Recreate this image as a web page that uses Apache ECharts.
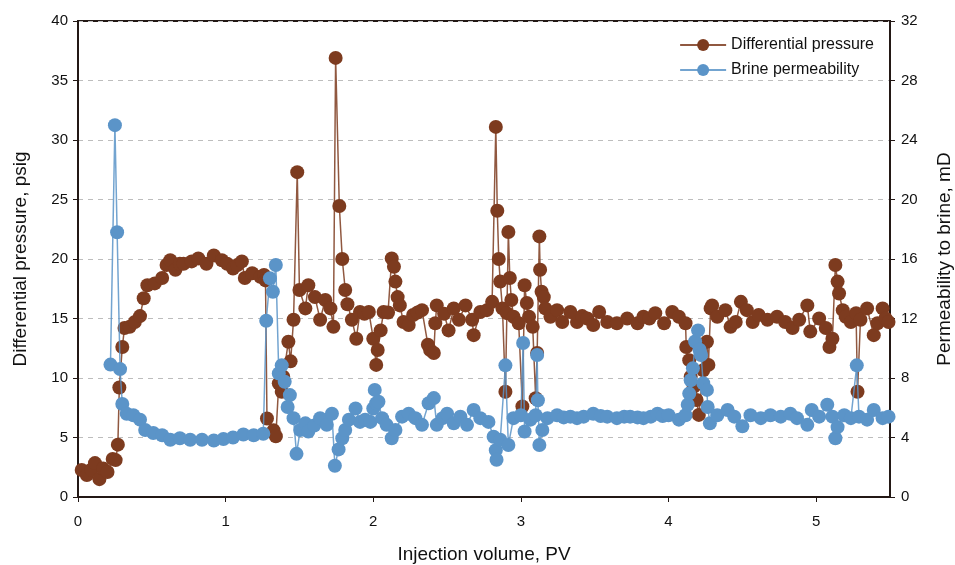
<!DOCTYPE html>
<html>
<head>
<meta charset="utf-8">
<script src="https://cdn.jsdelivr.net/npm/echarts@6/dist/echarts.min.js"></script>
<style>
  html, body { margin: 0; padding: 0; background: #fff; overflow: hidden; }
  #chart { width: 955px; height: 565px; }
</style>
</head>
<body>
<div id="chart"></div>
<script>
// injection volume (PV) / differential pressure (psig)
var pressurePoints = [
  [0.025, 2.27], [0.06, 1.85], [0.09, 2.3], [0.115, 2.85], [0.145, 1.5], [0.17, 2.4], [0.20, 2.1],
  [0.235, 3.2], [0.255, 3.1], [0.27, 4.4], [0.28, 9.2], [0.30, 12.6], [0.315, 14.2], [0.35, 14.3],
  [0.385, 14.7], [0.42, 15.2], [0.445, 16.7], [0.47, 17.8], [0.52, 17.95], [0.57, 18.4], [0.60, 19.5],
  [0.625, 19.9], [0.66, 19.1], [0.69, 19.6], [0.715, 19.6], [0.77, 19.8], [0.815, 20.05], [0.87, 19.6],
  [0.92, 20.3], [0.975, 19.9], [1.01, 19.6], [1.05, 19.2], [1.08, 19.5], [1.11, 19.8], [1.13, 18.4],
  [1.18, 18.8], [1.235, 18.5], [1.26, 18.65], [1.27, 18.2], [1.28, 6.6], [1.325, 5.6], [1.34, 5.1],
  [1.36, 9.55], [1.38, 8.85], [1.39, 10.1], [1.425, 13.05], [1.44, 11.4], [1.46, 14.9], [1.485, 27.3],
  [1.50, 17.4], [1.54, 15.85], [1.56, 17.8], [1.605, 16.8], [1.64, 14.9], [1.675, 16.55], [1.71, 15.85],
  [1.73, 14.3], [1.745, 36.9], [1.77, 24.45], [1.79, 20.0], [1.81, 17.4], [1.825, 16.2], [1.855, 14.9],
  [1.885, 13.3], [1.91, 15.55], [1.94, 15.4], [1.97, 15.55], [2.0, 13.3], [2.02, 11.1], [2.03, 12.35],
  [2.05, 14.0], [2.07, 15.55], [2.10, 15.5], [2.125, 20.05], [2.14, 19.35], [2.15, 18.1], [2.165, 16.8],
  [2.18, 16.1], [2.205, 14.7], [2.24, 14.45], [2.27, 15.3], [2.30, 15.5], [2.33, 15.7], [2.37, 12.8],
  [2.385, 12.35], [2.41, 12.1], [2.42, 14.6], [2.43, 16.1], [2.48, 15.4], [2.51, 14.0], [2.545, 15.85],
  [2.58, 14.9], [2.625, 16.1], [2.67, 14.9], [2.68, 13.6], [2.725, 15.55], [2.77, 15.7], [2.805, 16.4],
  [2.83, 31.1], [2.84, 24.05], [2.85, 20.0], [2.86, 18.1], [2.875, 15.85], [2.895, 8.85], [2.905, 15.45],
  [2.915, 22.27], [2.925, 18.4], [2.935, 16.55], [2.95, 15.15], [2.985, 14.6], [3.01, 7.6], [3.025, 17.8],
  [3.04, 16.3], [3.055, 15.15], [3.08, 14.3], [3.10, 8.3], [3.11, 12.1], [3.125, 21.9], [3.13, 19.1],
  [3.14, 17.25], [3.155, 16.8], [3.165, 15.85], [3.20, 15.15], [3.245, 15.7], [3.28, 14.7], [3.335, 15.55],
  [3.38, 14.7], [3.415, 15.2], [3.45, 15.0], [3.49, 14.45], [3.53, 15.55], [3.585, 14.7], [3.65, 14.6],
  [3.72, 15.0], [3.79, 14.6], [3.83, 15.15], [3.87, 15.0], [3.91, 15.45], [3.97, 14.6], [4.025, 15.55],
  [4.07, 15.15], [4.115, 14.6], [4.12, 12.6], [4.14, 11.5], [4.15, 10.1], [4.17, 9.25], [4.19, 8.15],
  [4.205, 6.9], [4.235, 10.65], [4.26, 13.05], [4.27, 11.1], [4.285, 15.85], [4.295, 16.1], [4.33, 15.15],
  [4.385, 15.7], [4.42, 14.3], [4.455, 14.7], [4.49, 16.4], [4.53, 15.7], [4.57, 14.7], [4.61, 15.3],
  [4.67, 14.9], [4.735, 15.15], [4.79, 14.7], [4.84, 14.2], [4.885, 14.9], [4.94, 16.1], [4.96, 13.9],
  [5.02, 15.0], [5.065, 14.2], [5.09, 12.6], [5.11, 13.3], [5.13, 19.5], [5.145, 18.1], [5.155, 17.1],
  [5.18, 15.7], [5.20, 15.15], [5.235, 14.7], [5.27, 15.45], [5.28, 8.85], [5.30, 14.9], [5.345, 15.85],
  [5.39, 13.6], [5.415, 14.6], [5.45, 15.85], [5.47, 15.0], [5.49, 14.7]
];

// injection volume (PV) / brine permeability (mD)
var permPoints = [
  [0.22, 8.9], [0.25, 25.0], [0.265, 17.8], [0.285, 8.6], [0.30, 6.25], [0.33, 5.6], [0.375, 5.5],
  [0.42, 5.2], [0.455, 4.5], [0.51, 4.3], [0.57, 4.15], [0.625, 3.85], [0.69, 3.95], [0.76, 3.85],
  [0.84, 3.85], [0.92, 3.8], [0.985, 3.9], [1.05, 4.0], [1.12, 4.2], [1.19, 4.15], [1.255, 4.25],
  [1.275, 11.85], [1.30, 14.7], [1.32, 13.8], [1.34, 15.6], [1.36, 8.3], [1.38, 8.85], [1.40, 7.75],
  [1.42, 6.05], [1.435, 6.85], [1.46, 5.3], [1.48, 2.9], [1.505, 4.5], [1.54, 4.95], [1.56, 4.4],
  [1.60, 4.8], [1.64, 5.3], [1.685, 4.85], [1.72, 5.6], [1.74, 2.1], [1.765, 3.2], [1.79, 3.95],
  [1.81, 4.5], [1.835, 5.2], [1.88, 5.95], [1.91, 5.05], [1.945, 5.2], [1.98, 5.05], [2.0, 5.95],
  [2.01, 7.2], [2.02, 6.3], [2.035, 6.4], [2.06, 5.3], [2.09, 4.85], [2.125, 3.95], [2.15, 4.5],
  [2.195, 5.4], [2.24, 5.6], [2.285, 5.3], [2.33, 4.85], [2.375, 6.3], [2.41, 6.65], [2.43, 4.85],
  [2.47, 5.3], [2.5, 5.6], [2.545, 4.95], [2.59, 5.4], [2.635, 4.85], [2.68, 5.85], [2.725, 5.3],
  [2.78, 5.05], [2.815, 4.05], [2.83, 3.15], [2.835, 2.5], [2.86, 3.85], [2.895, 8.85], [2.915, 3.5],
  [2.95, 5.3], [3.0, 5.5], [3.015, 10.35], [3.025, 4.4], [3.065, 5.2], [3.10, 5.5], [3.11, 9.55],
  [3.115, 6.5], [3.125, 3.5], [3.145, 4.5], [3.18, 5.3], [3.245, 5.5], [3.29, 5.35], [3.335, 5.4],
  [3.38, 5.3], [3.425, 5.4], [3.49, 5.6], [3.54, 5.45], [3.585, 5.4], [3.65, 5.3], [3.70, 5.4],
  [3.74, 5.4], [3.79, 5.35], [3.83, 5.3], [3.88, 5.4], [3.925, 5.6], [3.96, 5.45], [4.0, 5.5],
  [4.07, 5.2], [4.115, 5.5], [4.13, 6.2], [4.14, 6.95], [4.15, 7.85], [4.165, 8.65], [4.18, 10.45],
  [4.20, 11.2], [4.21, 9.9], [4.22, 9.55], [4.235, 7.65], [4.26, 7.2], [4.265, 6.05], [4.28, 4.95],
  [4.33, 5.5], [4.40, 5.85], [4.445, 5.4], [4.50, 4.75], [4.555, 5.5], [4.625, 5.3], [4.69, 5.5],
  [4.76, 5.4], [4.825, 5.6], [4.87, 5.3], [4.94, 4.85], [4.97, 5.85], [5.02, 5.4], [5.075, 6.2],
  [5.11, 5.4], [5.13, 3.95], [5.145, 4.7], [5.19, 5.5], [5.235, 5.3], [5.275, 8.85], [5.29, 5.4],
  [5.345, 5.2], [5.39, 5.85], [5.45, 5.3], [5.49, 5.4]
];

var brown = '#7d3b1f'
var blue = '#5b94c8'
var axisColor = '#231815'
var fontFamily = 'Liberation Sans, Arial, sans-serif'

var myChart = echarts.init(document.getElementById('chart'))
var option = {
  animation: false,
  textStyle: { fontFamily: fontFamily },
  grid: {
    left: 78, right: 65, top: 21, bottom: 68,
    containLabel: false,
    outerBoundsMode: 'none',
    show: true, borderColor: axisColor, borderWidth: 2
  },
  legend: {
    orient: 'vertical',
    right: 76,
    top: 32,
    itemWidth: 46,
    itemHeight: 15,
    itemGap: 9,
    textStyle: { fontSize: 16, color: '#111', fontFamily: fontFamily },
    data: ['Differential pressure', 'Brine permeability']
  },
  xAxis: {
    type: 'value',
    min: 0, max: 5.5, interval: 1,
    name: 'Injection volume, PV',
    nameLocation: 'middle',
    nameGap: 48,
    nameTextStyle: { fontSize: 19, color: '#111' },
    axisLine: { lineStyle: { color: axisColor, width: 2 } },
    axisTick: { length: 5, lineStyle: { color: axisColor } },
    axisLabel: {
      fontSize: 15, color: '#111', margin: 17, showMaxLabel: false,
      formatter: function (v) { return Number.isInteger(v) ? String(v) : '' }
    },
    splitLine: { show: false }
  },
  yAxis: [
    {
      type: 'value',
      min: 0, max: 40, interval: 5,
      name: 'Differential pressure, psig',
      nameLocation: 'middle',
      nameRotate: 90,
      nameGap: 48,
      nameTextStyle: { fontSize: 19, color: '#111' },
      axisLine: { show: true, lineStyle: { color: axisColor, width: 2 } },
      axisTick: { show: true, length: 5, lineStyle: { color: axisColor } },
      axisLabel: { fontSize: 15, color: '#111', margin: 10 },
      splitLine: { show: true, lineStyle: { color: '#bdbdbd', type: [5, 5], width: 1 } }
    },
    {
      type: 'value',
      min: 0, max: 32, interval: 4,
      position: 'right',
      name: 'Permeability to brine, mD',
      nameLocation: 'middle',
      nameRotate: 90,
      nameGap: 45,
      nameTextStyle: { fontSize: 19, color: '#111' },
      axisLine: { show: true, lineStyle: { color: axisColor, width: 2 } },
      axisTick: { show: true, length: 5, lineStyle: { color: axisColor } },
      axisLabel: { fontSize: 15, color: '#111', margin: 11 },
      splitLine: { show: false }
    }
  ],
  series: [
    {
      name: 'Differential pressure',
      type: 'line',
      yAxisIndex: 0,
      data: pressurePoints,
      symbol: 'circle',
      symbolSize: 14,
      showAllSymbol: true,
      color: brown,
      itemStyle: { color: brown },
      lineStyle: { color: brown, width: 1.5, opacity: 0.85 },
      z: 2
    },
    {
      name: 'Brine permeability',
      type: 'line',
      yAxisIndex: 1,
      data: permPoints,
      symbol: 'circle',
      symbolSize: 14,
      showAllSymbol: true,
      color: blue,
      itemStyle: { color: blue },
      lineStyle: { color: blue, width: 1.5, opacity: 0.85 },
      z: 3
    }
  ]
}
myChart.setOption(option)
</script>
</body>
</html>
